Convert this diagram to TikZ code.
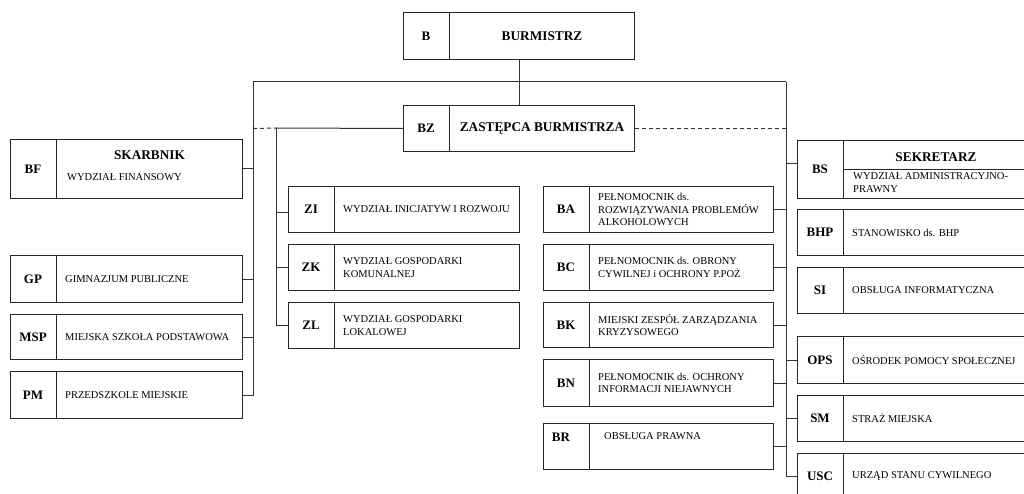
\documentclass[tikz,border=0pt]{standalone}
\usepackage{fontspec}
\setmainfont{Liberation Serif}
\usetikzlibrary{calc}
\tikzset{
 ubox/.style={draw=black!85, line width=1pt, rectangle, inner sep=0pt, fill=white},
 uline/.style={draw=black!85, line width=1pt},
 conn/.style={draw=black!80, line width=1pt},
 dashconn/.style={draw=black!80, line width=1pt, dash pattern=on 4pt off 3pt},
 abbr/.style={font=\fontsize{13}{15}\selectfont\bfseries, inner sep=0pt},
 txt/.style={font=\fontsize{10.5}{12.5}\selectfont, inner sep=0pt, align=left},
 ttl/.style={font=\fontsize{13.3}{15}\selectfont\bfseries, inner sep=0pt},
}
% name, x, y (top), width, height
\newcommand{\unitbox}[5]{%
 \node[ubox, minimum width=#4pt, minimum height=#5pt, anchor=north west] (#1) at (#2,#3) {};
 \draw[uline] ([xshift=46pt]#1.north west) -- ([xshift=46pt]#1.south west);
}
\newcommand{\unitabbr}[2]{%
 \node[abbr] (#1-a) at ($(#1.north west)!0.5!([xshift=46pt]#1.south west)$) {#2};
}
\newcommand{\unittext}[2]{%
 \node[txt, anchor=west] (#1-t) at ([xshift=55pt]#1.west) {#2};
}
\begin{document}
\begin{tikzpicture}[x=1pt,y=-1pt]
\useasboundingbox (0,0) rectangle (1024,494);
\clip (0,0) rectangle (1024,494);

% coordinates of connector lines
\coordinate (Lt) at (253,82);
\coordinate (Rt) at (786,82);
\coordinate (Zt) at (276,128);

% top
\unitbox{b}{403}{12}{231}{47}
\unitabbr{b}{B}
\node[ttl] (b-t) at ([xshift=23pt]b.center) {BURMISTRZ};
\unitbox{bz}{403}{105}{231}{46}
\unitabbr{bz}{BZ}
\node[ttl] (bz-t) at ([xshift=23pt]bz.center) {ZASTĘPCA BURMISTRZA};

% left column
\unitbox{bf}{10}{139}{232}{59}
\unitabbr{bf}{BF}
\node[ttl] (bf-h) at ($(bf.north)+(23,16)$) {SKARBNIK};
\node[txt, anchor=west] (bf-t) at ($(bf.north west)+(57,38)$) {WYDZIAŁ FINANSOWY};
\unitbox{gp}{10}{255}{232}{47}
\unitabbr{gp}{GP}
\unittext{gp}{GIMNAZJUM PUBLICZNE}
\unitbox{msp}{10}{314}{232}{45}
\unitabbr{msp}{MSP}
\unittext{msp}{MIEJSKA SZKOŁA PODSTAWOWA}
\unitbox{pm}{10}{371}{232}{47}
\unitabbr{pm}{PM}
\unittext{pm}{PRZEDSZKOLE MIEJSKIE}

% Z column
\unitbox{zi}{288}{186}{231}{46}
\unitabbr{zi}{ZI}
\unittext{zi}{WYDZIAŁ INICJATYW I ROZWOJU}
\unitbox{zk}{288}{244}{231}{46}
\unitabbr{zk}{ZK}
\unittext{zk}{WYDZIAŁ GOSPODARKI\\KOMUNALNEJ}
\unitbox{zl}{288}{302}{231}{46}
\unitabbr{zl}{ZL}
\unittext{zl}{WYDZIAŁ GOSPODARKI\\LOKALOWEJ}

% B column
\unitbox{ba}{543}{186}{230}{46}
\unitabbr{ba}{BA}
\unittext{ba}{PEŁNOMOCNIK ds.\\ROZWIĄZYWANIA PROBLEMÓW\\ALKOHOLOWYCH}
\unitbox{bc}{543}{244}{230}{46}
\unitabbr{bc}{BC}
\unittext{bc}{PEŁNOMOCNIK ds. OBRONY\\CYWILNEJ i OCHRONY P.POŻ}
\unitbox{bk}{543}{302}{230}{45}
\unitabbr{bk}{BK}
\unittext{bk}{MIEJSKI ZESPÓŁ ZARZĄDZANIA\\KRYZYSOWEGO}
\unitbox{bn}{543}{359}{230}{47}
\unitabbr{bn}{BN}
\unittext{bn}{PEŁNOMOCNIK ds. OCHRONY\\INFORMACJI NIEJAWNYCH}
\unitbox{br}{543}{423}{230}{46}
\node[abbr] (br-a) at ($(br.north west)+(18,14)$) {BR};
\node[txt, anchor=west] (br-t) at ($(br.north west)+(61,13)$) {OBSŁUGA PRAWNA};

% right column
\unitbox{bs}{797}{140}{231}{58}
\unitabbr{bs}{BS}
\draw[uline] ([xshift=46pt]bs.west) -- (bs.east);
\node[ttl] (bs-h) at ($(bs.north)+(23,17)$) {SEKRETARZ};
\node[txt, anchor=west] (bs-t) at ($(bs.north west)+(56,42.5)$) {WYDZIAŁ ADMINISTRACYJNO-\\PRAWNY};
\unitbox{bhp}{797}{209}{231}{46}
\unitabbr{bhp}{BHP}
\unittext{bhp}{STANOWISKO ds. BHP}
\unitbox{si}{797}{267}{231}{46}
\unitabbr{si}{SI}
\unittext{si}{OBSŁUGA INFORMATYCZNA}
\unitbox{ops}{797}{336}{231}{47}
\unitabbr{ops}{OPS}
\unittext{ops}{OŚRODEK POMOCY SPOŁECZNEJ}
\unitbox{sm}{797}{395}{231}{46}
\unitabbr{sm}{SM}
\unittext{sm}{STRAŻ MIEJSKA}
\unitbox{usc}{797}{453}{231}{46}
\unitabbr{usc}{USC}
\unittext{usc}{URZĄD STANU CYWILNEGO}

% connectors
\draw[conn] (b.south) -- (bz.north);
\draw[conn] (Lt) -- (Rt);
\draw[conn] (Lt) |- (pm.east);
\draw[conn] (bf.east) -- (bf.east -| Lt);
\draw[conn] (gp.east) -- (gp.east -| Lt);
\draw[conn] (msp.east) -- (msp.east -| Lt);

\draw[dashconn] (bz.west -| Lt) -- (Zt);
\draw[conn] (Zt) -- (bz.west);
\draw[conn] (Zt) |- (zl.west);
\draw[conn] ([yshift=-3pt]zi.west) -- ([yshift=-3pt]zi.west -| Zt);
\draw[conn] (zk.west) -- (zk.west -| Zt);

\draw[dashconn] (bz.east) -- (bz.east -| Rt);
\draw[conn] (Rt) |- (usc.west);
\draw[conn] (ba.east) -- (ba.east -| Rt);
\draw[conn] (bc.east) -- (bc.east -| Rt);
\draw[conn] (bk.east) -- (bk.east -| Rt);
\draw[conn] (bn.east) -- (bn.east -| Rt);
\draw[conn] (br.east) -- (br.east -| Rt);
\draw[conn] ([yshift=6pt]bs.west) -- ([yshift=6pt]bs.west -| Rt);
\draw[conn] (ops.west) -- (ops.west -| Rt);
\draw[conn] (sm.west) -- (sm.west -| Rt);
\end{tikzpicture}
\end{document}
